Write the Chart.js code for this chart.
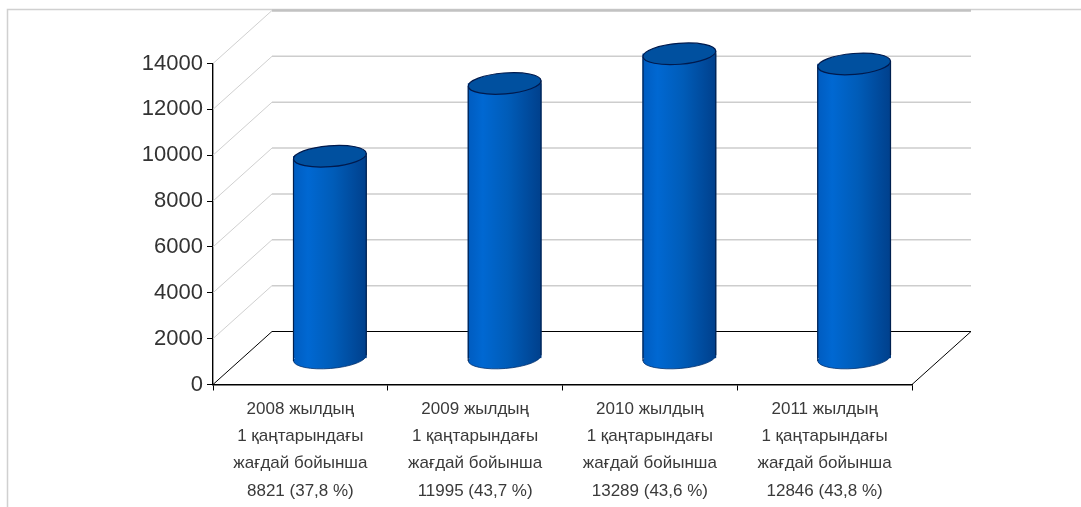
<!DOCTYPE html>
<html>
<head>
<meta charset="utf-8">
<script src="https://cdn.jsdelivr.net/npm/chart.js@4"></script>
<style>
html,body{margin:0;padding:0;background:#fff;overflow:hidden}
canvas{display:block;filter:blur(0.4px)}
</style>
</head>
<body>
<canvas id="c" width="1081" height="507"></canvas>
<script>
const categories = [
  ["2008 жылдың","1 қаңтарындағы","жағдай бойынша","8821 (37,8 %)"],
  ["2009 жылдың","1 қаңтарындағы","жағдай бойынша","11995 (43,7 %)"],
  ["2010 жылдың","1 қаңтарындағы","жағдай бойынша","13289 (43,6 %)"],
  ["2011 жылдың","1 қаңтарындағы","жағдай бойынша","12846 (43,8 %)"]
];
const values = [8821, 11995, 13289, 12846];
const yTicks = [0, 2000, 4000, 6000, 8000, 10000, 12000, 14000];

const DEPTH_X = 59, DEPTH_Y = 53, BAR_SHIFT_Y = 26, BAR_W = 73, RY = 10.5, ROT = -0.08;

const threeD = {
  id: 'threeD',
  beforeDraw(chart) {
    const c = chart.ctx;
    c.save();
    c.fillStyle = '#fff';
    c.fillRect(0, 0, chart.width, chart.height);
    c.strokeStyle = '#d0d0d0';
    c.lineWidth = 1.5;
    c.beginPath();
    c.moveTo(7.5, 507); c.lineTo(7.5, 9.5); c.lineTo(1081, 9.5);
    c.stroke();
    c.restore();
  },
  beforeDatasetsDraw(chart) {
    const c = chart.ctx, y = chart.scales.y, a = chart.chartArea;
    c.save();
    yTicks.forEach(v => {
      const py = y.getPixelForValue(v);
      const isZero = v === 0, isTop = v === yTicks[yTicks.length - 1];
      c.strokeStyle = isZero ? '#000' : '#d0d0d0';
      c.lineWidth = 1;
      c.beginPath();
      c.moveTo(a.left, py); c.lineTo(a.left + DEPTH_X, py - DEPTH_Y);
      c.stroke();
      c.strokeStyle = isZero ? '#000' : (isTop ? '#c2c2c2' : '#cdcdcd');
      c.lineWidth = isTop ? 2.5 : (isZero ? 1.2 : 1.5);
      c.beginPath();
      c.moveTo(a.left + DEPTH_X, py - DEPTH_Y); c.lineTo(a.right + DEPTH_X, py - DEPTH_Y);
      c.stroke();
    });
    const p0 = y.getPixelForValue(0);
    c.strokeStyle = '#000';
    c.lineWidth = 1;
    c.beginPath();
    c.moveTo(a.right, p0); c.lineTo(a.right + DEPTH_X, p0 - DEPTH_Y);
    c.stroke();
    c.restore();
  },
  beforeDatasetDraw(chart) {
    const c = chart.ctx;
    c.save();
    c.translate(DEPTH_X / 2, -BAR_SHIFT_Y);
  },
  afterDatasetDraw(chart) {
    const c = chart.ctx;
    chart.getDatasetMeta(0).data.forEach(b => {
      const dx = Math.cos(ROT) * BAR_W / 2, dy = Math.sin(ROT) * BAR_W / 2;
      // lower end of the cylinder: fill the whole ellipse, outline only its lower half
      c.beginPath();
      c.ellipse(b.x, b.base, BAR_W / 2, RY, ROT, 0, Math.PI * 2);
      c.fillStyle = barGradient(c, b.x);
      c.fill();
      c.beginPath();
      c.ellipse(b.x, b.base, BAR_W / 2, RY, ROT, 0, Math.PI);
      c.strokeStyle = '#00306e';
      c.lineWidth = 0.8;
      c.stroke();
      c.strokeStyle = '#00204f';
      c.lineWidth = 1.2;
      c.beginPath();
      c.moveTo(b.x - dx, b.y - dy); c.lineTo(b.x - dx, b.base - dy);
      c.moveTo(b.x + dx, b.y + dy); c.lineTo(b.x + dx, b.base + dy);
      c.stroke();
      c.beginPath();
      c.ellipse(b.x, b.y, BAR_W / 2, RY, ROT, 0, Math.PI * 2);
      c.fillStyle = '#00509f';
      c.fill();
      c.strokeStyle = '#001a4d';
      c.stroke();
    });
    c.restore();
  }
};

function barGradient(c, x) {
  const g = c.createLinearGradient(x - BAR_W / 2, 0, x + BAR_W / 2, 0);
  g.addColorStop(0, '#005cc0');
  g.addColorStop(0.2, '#0068d2');
  g.addColorStop(0.55, '#005cb8');
  g.addColorStop(1, '#00408c');
  return g;
}

new Chart(document.getElementById('c'), {
  type: 'bar',
  data: {
    labels: categories,
    datasets: [{
      data: values,
      borderWidth: 0,
      barThickness: BAR_W,
      backgroundColor: ctx => {
        const px = ctx.chart.scales.x ? ctx.chart.scales.x.getPixelForValue(ctx.dataIndex) : NaN;
        return Number.isFinite(px) ? barGradient(ctx.chart.ctx, px) : '#005cb8';
      }
    }]
  },
  options: {
    responsive: false,
    animation: false,
    layout: { padding: { left: 0, right: 169, top: 63.5, bottom: 0 } },
    plugins: { legend: { display: false }, tooltip: { enabled: false } },
    scales: {
      x: {
        afterFit: s => { s.height = 122.5; },
        grid: { offset: true, drawOnChartArea: false, drawTicks: true, tickLength: 6, color: '#000' },
        border: { color: '#000', width: 1.4 },
        ticks: {
          color: '#3a3a3a', maxRotation: 0, minRotation: 0, padding: 5,
          font: { family: '"Liberation Sans", Arial, sans-serif', size: 17, lineHeight: 27.3 / 17 }
        }
      },
      y: {
        min: 0, max: 14000,
        afterFit: s => { s.width = 213; },
        afterBuildTicks: s => { s.ticks = yTicks.map(v => ({ value: v })); },
        grid: { drawOnChartArea: false, drawTicks: true, tickLength: 6, color: '#000' },
        border: { color: '#000', width: 1.4 },
        ticks: {
          color: '#333', padding: 4,
          callback: v => String(v),
          font: { family: '"Liberation Sans", Arial, sans-serif', size: 22 }
        }
      }
    }
  },
  plugins: [threeD]
});
</script>
</body>
</html>
